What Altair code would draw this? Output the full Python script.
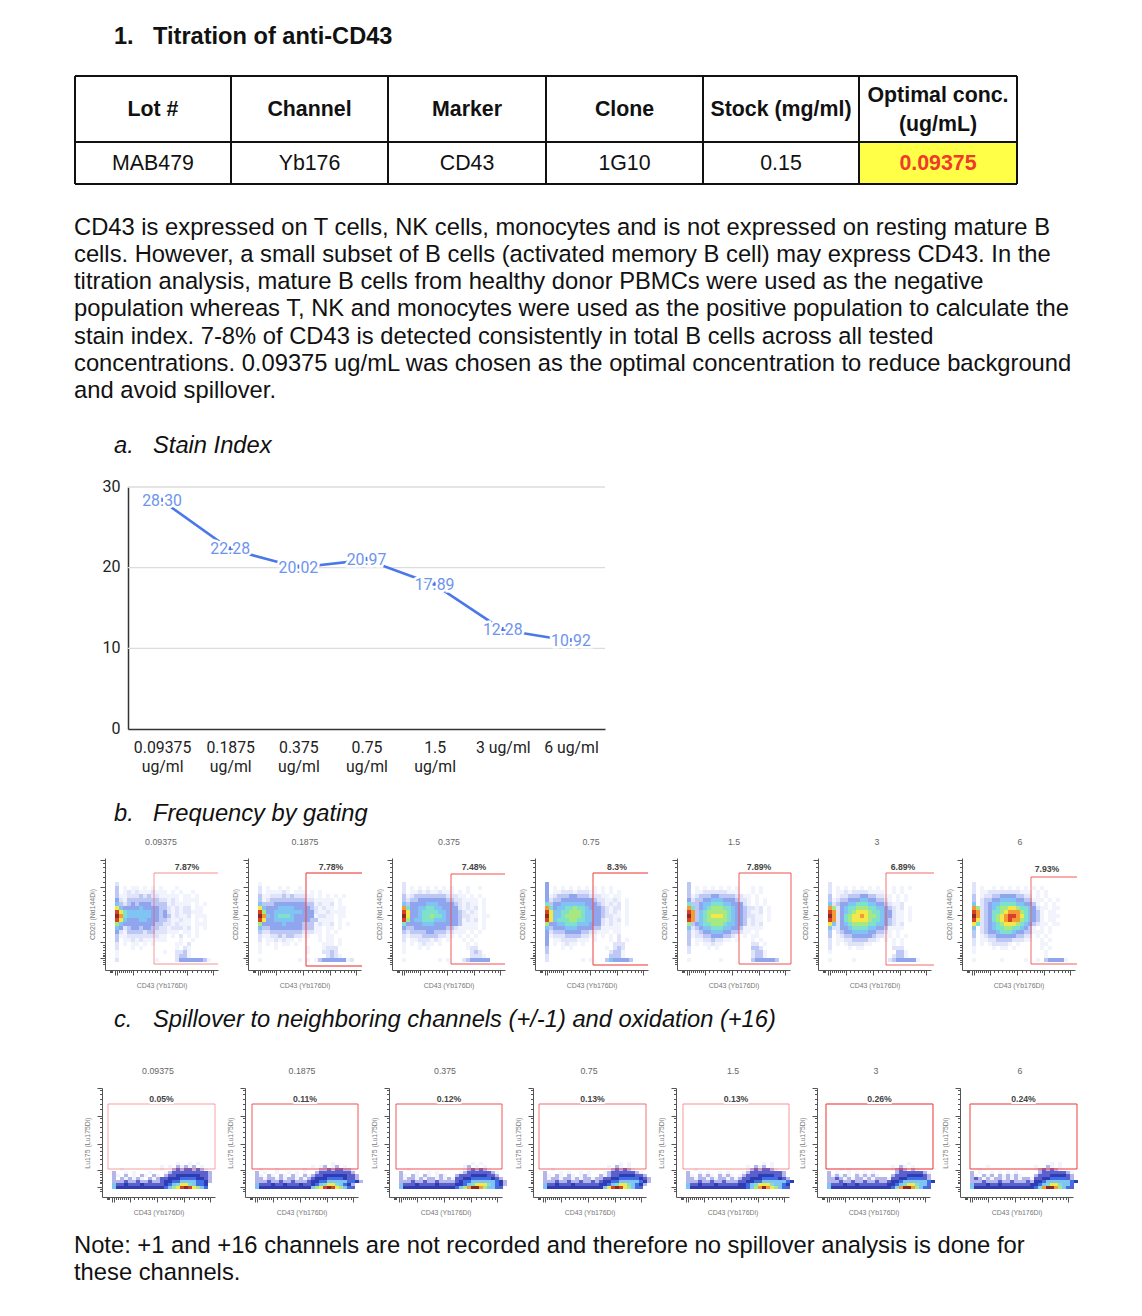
import altair as alt
import pandas as pd

# ---------- values ----------
DOSES = ["0.09375 ug/ml", "0.1875 ug/ml", "0.375 ug/ml", "0.75 ug/ml", "1.5 ug/ml", "3 ug/ml", "6 ug/ml"]
STAIN = [28.30, 22.28, 20.02, 20.97, 17.89, 12.28, 10.92]
STAIN_LABELS = ["28.30", "22.28", "20.02", "20.97", "17.89", "12.28", "10.92"]
PANEL_TITLES = ["0.09375", "0.1875", "0.375", "0.75", "1.5", "3", "6"]
FREQ = ["7.87%", "7.78%", "7.48%", "8.3%", "7.89%", "6.89%", "7.93%"]
SPILL = ["0.05%", "0.11%", "0.12%", "0.13%", "0.13%", "0.26%", "0.24%"]
TABLE_HEAD = ["Lot #", "Channel", "Marker", "Clone", "Stock (mg/ml)"]
TABLE_ROW = ["MAB479", "Yb176", "CD43", "1G10", "0.15"]
PARAGRAPH = [
    "CD43 is expressed on T cells, NK cells, monocytes and is not expressed on resting mature B",
    "cells. However, a small subset of B cells (activated memory B cell) may express CD43. In the",
    "titration analysis, mature B cells from healthy donor PBMCs were used as the negative",
    "population whereas T, NK and monocytes were used as the positive population to calculate the",
    "stain index. 7-8% of CD43 is detected consistently in total B cells across all tested",
    "concentrations. 0.09375 ug/mL was chosen as the optimal concentration to reduce background",
    "and avoid spillover.",
]
NOTE = [
    "Note: +1 and +16 channels are not recorded and therefore no spillover analysis is done for",
    "these channels.",
]

# density levels read by eye per panel (. = empty, 1-3 pale to mid blue, m n o purple to navy, p royal blue, 4 blue ... b dark red)
GATING = [
 ["2","3.1.11.1.1.1...1","3.12121112111.1.1..1","3112223232211111.11.1","4213333333322121.1111","5323434443333121111.1.1",
  "8544445444433212122.11","a865555554434212122111","b965555554434312112.111","a854445544433211211.1.1","7544444444332212111.111",
  "5423443443322122212.1.1","4213333233222111.11.1","3112222222211.1.2.1.1","3.11212111111...1..1","2.1.11.1.1.....11.2",
  "2...1.1........1.21","1...........1..2231","1..............2331","2.........1....244444431"],
 ["1","2.1..1.1..1","2.111121.111.1.1","31122232322211.1.1.1.1","3123333333332211111.1","5333444444443312112.1",
  "8544455554444321211.11","a744555555544421121111","b954566654444412211.11","a844555554444331111.1","7444445444433312112.1.1",
  "5334444444433311.11.1","3223333333322211.1.1","2112232332211..1.11","2.1121211.1....1.11.1","1.1.1.11.1......111.1",
  "1...1.......1...1222","1...........1...2232",".................2321","1.........1.1.1344444412"],
 ["2","2.1.1.1.1.1.1...1..1","2.11212112111.1.1","3123333333322211.1.1","3233444444433221111.1","5344445554444321211.1",
  "9644556655444421212.1","a844566665544432121.1","b844566766544432211.11","a745566655544431212.1","6444455544444431111.1",
  "4334444444433211111.1","3233334433322111.1.1","2122233332211.1.1.1","2.11222121.1...1.1","1.1.1211.1......1.1",
  "1...1.1.........122","1................232",".................2221","1........1.1...2344444"],
 ["4","4.1.1.1.1.1.1.1.1","4.11222122211.1.1.1","4123334433322211.11","4233444444443221121.1","6344555555444321212.1",
  "9645566766544432122.1","a855667776554432121.1","b855677776554432211.1","a856667766554421212.1","7445566655544421211.1",
  "5344455544443311111","4233344443322111.11","4122233332211.1.1.2","4.112222111.1...1.2.1","4.1.1211.1.......222",
  "3...1.1........1.232","3...............2331","2...............3331","2........1.1...3544443"],
 ["3","3.1.1.1.1.1.1...1.1","3.11222222111...1.1","3123334433332211.1","4233445554443221.1.1","6334556665544421.1.1",
  "9634567776654432212.1","a935677777654432112.1","b935678887654432211.1","a935677777654431211.1","7345667776554431212",
  "5234556665544311111","3123445554433211.1","3122334443321.1.11","3.112232211.1...1.1","3.1.11211.......22.1",
  "2....1.1........332","2...............2331","................2331","1.......1.......3444443"],
 ["2","2.1.1.1.1.1.1...1.1.1","2.112122221111..1.1","3.12233344332211.1.1","3123344455443321.1.1","5234455666554432112",
  "9724566777665543212.1","a924567888766544211.1","b924678898776544211.1","a924678888766543211.1","8524567777665543212",
  "5224456666554431111","3.23445555443321.1","3.12334444432211.1.1","2.11223333221.1.1.1","2.1.1222211.....1.1",
  "2....1.11.......222","1................331","................2331","1.....1........23444441"],
 ["2","2.1..1.1.1.1.1.1.1","2.1122222222111.1.1","3.1223344443322.1.1","3.2334455554433111.1.1","5.234556666554431.1.1",
  "9723456778876654211.11","a92346678999765431.11","b92346789aa9865431.111","a82346789a99765431.11","8623456788876543211.11",
  "5.23456677665431.1.1","3.2344566654433111.1","3.1233444443322.1.1","2.1122333322211..1.1","2.1.122221.1.....11",
  "1....1.11.1......1.1","1.................1","..................1","1......1.....1..1.344441"],
]
SPILLOVER = [
 ["................1..1.1","............1.1.m1m1m.1","..1.........1..mnmnnmnm1","m..1.1...1...1mnnnnnnnnnm","m1.m.1.m1.m1.mnnoooooonnm",
  "m.m1m1m1.m1mnnoooppppoonm","mmmnmmnmmnmmnoopp5555ppom","5nnonnnonnnnnop568865ppo","5oooooooooooop578aba875p"],
 ["...................1","..............1.1m.1m.1",".1...1......1...mmnmnnmm1","m.1..1..1.1.1..mnnnnnnnnm","m1.m1.m1.m1.m1mnnoooooonnm",
  "mm1mm1m1mm1m1mnooopppponnm","mmmnmmnmmnmmmnoopp55555ppom","5nnnonnonnnonnop568865pom","5ooooooooooooo578aba875pn"],
 ["..................1.1","................1m.1.1","..1.............1mnmnm1","m...1..1.1.....1mnnnnnnm1","m1.m1.m1.1m1..mnnnoooonnm",
  "m1mm1m1mm1m1m1nnooppppponm","mmmnmmnmmnmmmmnopp555555pom","5nnnonnnnonnnnoop5688865pom","5ooooooooooooop579bb9755pn"],
 ["...................1.1","................1.m1.1","..1..............mnmnm1","m...1.1..1.1...1mnnnnnnm1","m1.m1.m1.1m1..m1mnnoooonnm",
  "m1mm1mm1m1mm1mmnnooppppponm","mmmnmmnmmnmmnmnoopp55555pom","5nnonnnonnnnnnoop568865pom","5oooooooooooooo58aba875pn"],
 ["...................1.1","...............1.m1m.1","..1............1mnmnnm1","m..1.1..1.1...1mnnnnnnnnm","m1.m1m1.m1m1.1mnnnoooonnm",
  "mm1mm1m1mm1m1mnnooopppponm","mmmnmmnmmnmmmnnoopp555555po","5nnonnnonnnnnoop56888655po","5oooooooooooooop579b9875pn"],
 ["....................1","................1.m1.1","...1.1..........1mnm.m1","m.1..1.1.1.1.....mnnnnnnm1","m1m1m1.m1m1m1...mnnnoooonm",
  "mmnm1m1mm1m1mmm1nnooppppnm","mmmnmmnmmnmmnmmnoop555555po","5nnnonnonnnnnnnoop5688655p","5ooooooooooooooop69bb975pn"],
 ["....................1.1","....1...........1..m1.1","..1.............1mnmnm1","m.1..1.1.1.1.....mnnnnnnm1","m1.m1m.m1m1m1...mnnnoooonm",
  "mnm1m1mm1m1m1mm1nnooppppnm","mmmnmmmnmmnmmmnmoop555555po","5nnnonnonnnnnnnoop5688655p","5ooooooooooooooop69bb975pn"],
]

LEVELS = ["1","2","3","4","5","6","7","8","9","a","b","m","n","o","p"]
LEVEL_COLORS = ["#f2f4fd","#dfe4fa","#bcc7f4","#8fa5ee","#7fc4f2","#7fe0cc","#a8e880","#f2e84a","#f59a34",
                "#d8402a","#8e2a1e","#b4b6ea","#5a60cc","#2f3cb4","#3f6fe6"]

X_MAJOR = [10, 12, 28, 55, 82, 108]
X_MINOR = [5, 6, 7, 14, 16, 18, 20, 22, 24, 26, 32, 36, 40, 44, 47, 50, 52, 60, 64, 68, 72, 75, 78, 80, 87, 92, 96, 100, 103, 106]
Y_MAJOR_B = [12, 28, 55, 83, 110]
Y_MAJOR_C = [10, 27, 53, 81, 109]
Y_MINOR = [6, 8, 10, 14, 15, 17, 20, 23, 25, 33, 38, 42, 46, 50, 60, 65, 70, 75, 79, 88, 93, 98, 103, 107]

# ---------- layout (reference pixels) ----------
W, H, M = 1126, 1300, 8
SANS = "Liberation Sans"
BODY = 23.76
BLUE = "#4a78e8"
LABEL_BLUE = "#6d94ee"
COL_X = [75, 231, 388, 546, 703, 859, 1017]
ROW_Y = [76, 142, 184]

B_AXIS = [105, 248, 392, 535, 677, 818, 962]
B_TITLE = [161, 305, 449, 591, 734, 877, 1020]
B_GATE = [(154,218,873,964,.40,0),(306,362,873,966,.8,0),(451,505,874,964,.65,0),(593,648,873,965,.75,0),
          (739,791,873,964,.65,1),(886,934,873,965,.55,0),(1031,1077,877,964,.6,0)]
B_PCT = [(187,867),(331,867),(474,867),(617,867),(759,867),(903,867),(1047,869)]
C_AXIS = [102, 245, 389, 533, 676, 817, 960]
C_TITLE = [158, 302, 445, 589, 733, 876, 1020]
C_GATE = [(108,215),(252,358),(396,502),(539,646),(683,789),(826,933),(970,1077)]
C_OP = [.35,.65,.65,.55,.4,.8,.75]


def page_text(rows, size, color="#111", weight="normal", style="normal", align="left", font=SANS,
              baseline="alphabetic", stroke=None):
    df = pd.DataFrame(rows, columns=["x", "y", "t"])
    df["x"] -= M
    df["y"] -= M
    kw = dict(stroke=stroke, strokeWidth=4) if stroke else {}
    return alt.Chart(df).mark_text(align=align, baseline=baseline, fontSize=size, font=font, fontWeight=weight,
                                   fontStyle=style, color=color, **kw).encode(
        x=alt.X("x:Q", scale=None, axis=None), y=alt.Y("y:Q", scale=None, axis=None), text="t:N")


def segments(rows, color, width):
    df = pd.DataFrame(rows, columns=["x", "x2", "y", "y2", "o"])
    for c in ["x", "x2", "y", "y2"]:
        df[c] -= M
    return alt.Chart(df).mark_rule(strokeWidth=width, color=color).encode(
        x=alt.X("x:Q", scale=None, axis=None), x2="x2:Q",
        y=alt.Y("y:Q", scale=None, axis=None), y2="y2:Q",
        opacity=alt.Opacity("o:Q", scale=None, legend=None))


def flow_panel(grid, ax, yb, top, rowtop, rowh, ytitle, ymajor, ypad):
    cells = []
    for r, row in enumerate(grid):
        for c, ch in enumerate(row):
            if ch != ".":
                cells.append(dict(x0=10 + c * 4, x1=14 + c * 4, y0=rowtop - r * rowh, y1=rowtop - (r + 1) * rowh, lv=ch))
    xcond = {"condition": {"test": "indexof(%s, datum.value) >= 0" % X_MAJOR, "value": 5}, "value": 2.5}
    ycond = {"condition": {"test": "indexof(%s, datum.value) >= 0" % ymajor, "value": 5}, "value": 2.5}
    return alt.Chart(pd.DataFrame(cells)).mark_rect(strokeWidth=0).encode(
        x=alt.X("x0:Q", scale=alt.Scale(domain=[0, 113], range=[ax - M, ax - M + 113], nice=False, zero=False),
                axis=alt.Axis(orient="bottom", offset=yb - M - H, values=sorted(X_MAJOR + X_MINOR), labels=False,
                              tickSize=xcond, tickColor="#555", domainColor="#555", grid=False, title="CD43 (Yb176Di)",
                              titleFont=SANS, titleFontSize=6.9, titleFontWeight="normal", titleColor="#777", titlePadding=7)),
        x2="x1:Q",
        y=alt.Y("y0:Q", scale=alt.Scale(domain=[0, yb - top], range=[yb - M, top - M], nice=False, zero=False),
                axis=alt.Axis(orient="left", offset=-(ax - M), values=sorted(ymajor + Y_MINOR), labels=False,
                              tickSize=ycond, tickColor="#555", domainColor="#555", grid=False, title=ytitle,
                              titleFont=SANS, titleFontSize=6.9, titleFontWeight="normal", titleColor="#777", titlePadding=ypad)),
        y2="y1:Q",
        color=alt.Color("lv:N", scale=alt.Scale(domain=LEVELS, range=LEVEL_COLORS), legend=None))


layers = []

# table
layers.append(alt.Chart(pd.DataFrame([dict(x=COL_X[5] - M, x2=COL_X[6] - M, y=ROW_Y[1] - M, y2=ROW_Y[2] - M)])).mark_rect(color="#ffff48").encode(
    x=alt.X("x:Q", scale=None, axis=None), x2="x2:Q", y=alt.Y("y:Q", scale=None, axis=None), y2="y2:Q"))
grid_rows = [(x, x, ROW_Y[0], ROW_Y[2], 1) for x in COL_X] + [(COL_X[0], COL_X[6], y, y, 1) for y in ROW_Y]
layers.append(segments(grid_rows, "#111", 2))
cen = [(COL_X[i] + COL_X[i + 1]) / 2 for i in range(6)]
layers.append(page_text([(cen[i], 116, TABLE_HEAD[i]) for i in range(5)], 21.33, weight="bold", align="center"))
layers.append(page_text([(cen[5], 102, "Optimal conc."), (cen[5], 131, "(ug/mL)")], 21.33, weight="bold", align="center"))
layers.append(page_text([(cen[i], 170, TABLE_ROW[i]) for i in range(5)], 21.33, align="center"))
layers.append(page_text([(cen[5], 170, "0.09375")], 21.33, color="#f03a2a", weight="bold", align="center"))

# headings and paragraphs
layers.append(page_text([(114, 44, "1."), (153, 44, "Titration of anti-CD43")], 23.6, weight="bold"))
para_y = [235, 262, 289, 316, 344, 371, 398]
layers.append(page_text([(74, para_y[i], PARAGRAPH[i]) for i in range(7)], BODY))
layers.append(page_text([(74, 1253, NOTE[0]), (74, 1280, NOTE[1])], BODY))
layers.append(page_text([(114, 453, "a."), (153, 453, "Stain Index"), (114, 821, "b."), (153, 821, "Frequency by gating"),
                         (114, 1027, "c."), (153, 1027, "Spillover to neighboring channels (+/-1) and oxidation (+16)")],
                        23.7, style="italic"))

# stain index chart
stain = pd.DataFrame({"dose": DOSES, "v": STAIN, "t": STAIN_LABELS})
sx = alt.Scale(domain=DOSES, range=[128 - M, 605 - M])
sy = alt.Scale(domain=[0, 30], range=[729 - M, 487 - M], nice=False)
X = alt.X("dose:N", scale=sx, axis=None, sort=None)
Y = alt.Y("v:Q", scale=sy, axis=None)
layers.append(alt.Chart(pd.DataFrame({"v": [10, 20, 30]})).mark_rule(color="#dcdcdc", strokeWidth=1.3).encode(
    y=Y, x=alt.value(128 - M), x2=alt.value(605 - M)))
layers.append(alt.Chart(stain).mark_line(color=BLUE, strokeWidth=2.6).encode(
    x=alt.X("dose:N", scale=sx, sort=None,
            axis=alt.Axis(orient="bottom", offset=729 - M - H, tickSize=0, labelAngle=0, labelFont="Roboto", labelFontSize=15.8,
                          labelColor="#222", labelPadding=18, labelBaseline="middle", labelLimit=0, labelOverlap=False, domainColor="#333", domainWidth=1.5,
                          grid=False, title=None, labelLineHeight=19,
                          labelExpr="datum.label == '3 ug/ml' || datum.label == '6 ug/ml' ? datum.label : split(datum.label, ' ')")),
    y=alt.Y("v:Q", scale=sy, axis=alt.Axis(orient="left", offset=-(128 - M), values=[0, 10, 20, 30], tickSize=0, labelFont="Roboto", labelFontSize=16,
                                           labelColor="#222", labelPadding=8, labelOffset=-1, domainColor="#333", domainWidth=1.5, grid=False, title=None))))
layers.append(alt.Chart(stain).mark_text(fontSize=15.8, font="Roboto", color="white", stroke="white", strokeWidth=5).encode(x=X, y=Y, text="t:N"))
layers.append(alt.Chart(stain).mark_point(filled=True, size=16, color=BLUE, opacity=1,
                                          shape="M-0.4,-1.5L0.4,-1.5L0.4,0.5L-0.4,0.5Z").encode(x=X, y=Y))
layers.append(alt.Chart(stain).mark_text(fontSize=15.8, font="Roboto", color=LABEL_BLUE).encode(x=X, y=Y, text="t:N"))

# gating panels
for i in range(7):
    layers.append(flow_panel(GATING[i], B_AXIS[i], 970, 858, 88, 4, "CD20 (Nd144Di)", Y_MAJOR_B, 4))
    l, r, t, b, o, closed = B_GATE[i]
    seg = [(l, r, t, t, o), (l, l, t, b, o), (l, r, b, b, o)]
    if closed:
        seg.append((r, r, t, b, o))
    layers.append(segments(seg, "#f04848", 1.4))
layers.append(page_text([(B_TITLE[i], 842, PANEL_TITLES[i]) for i in range(7)], 8.8, color="#666", align="center", baseline="middle"))
layers.append(page_text([(B_PCT[i][0], B_PCT[i][1], FREQ[i]) for i in range(7)], 8.7, color="#444", weight="bold", align="center", baseline="middle"))

# spillover panels
for i in range(7):
    layers.append(flow_panel(SPILLOVER[i], C_AXIS[i], 1197, 1088, 35, 3, "Lu175 (Lu175Di)", Y_MAJOR_C, 6))
    l, r = C_GATE[i]
    t, b, o = 1104, 1169, C_OP[i]
    layers.append(segments([(l, r, t, t, o), (l, l, t, b, o), (l, r, b, b, o), (r, r, t, b, o)], "#f04848", 1.4))
c_pct = [((C_GATE[i][0] + C_GATE[i][1]) / 2, 1099, SPILL[i]) for i in range(7)]
layers.append(page_text(c_pct, 8.7, color="white", weight="bold", align="center", baseline="middle", stroke="white"))
layers.append(page_text(c_pct, 8.7, color="#444", weight="bold", align="center", baseline="middle"))
layers.append(page_text([(C_TITLE[i], 1071, PANEL_TITLES[i]) for i in range(7)], 8.8, color="#666", align="center", baseline="middle"))

chart = alt.layer(*layers).resolve_scale(x="independent", y="independent").properties(
    width=W, height=H, padding=0, background="white", autosize=alt.AutoSizeParams(type="none")
).configure_view(stroke=None)

chart.save("out.html", embed_options={"renderer": "svg", "actions": False})
